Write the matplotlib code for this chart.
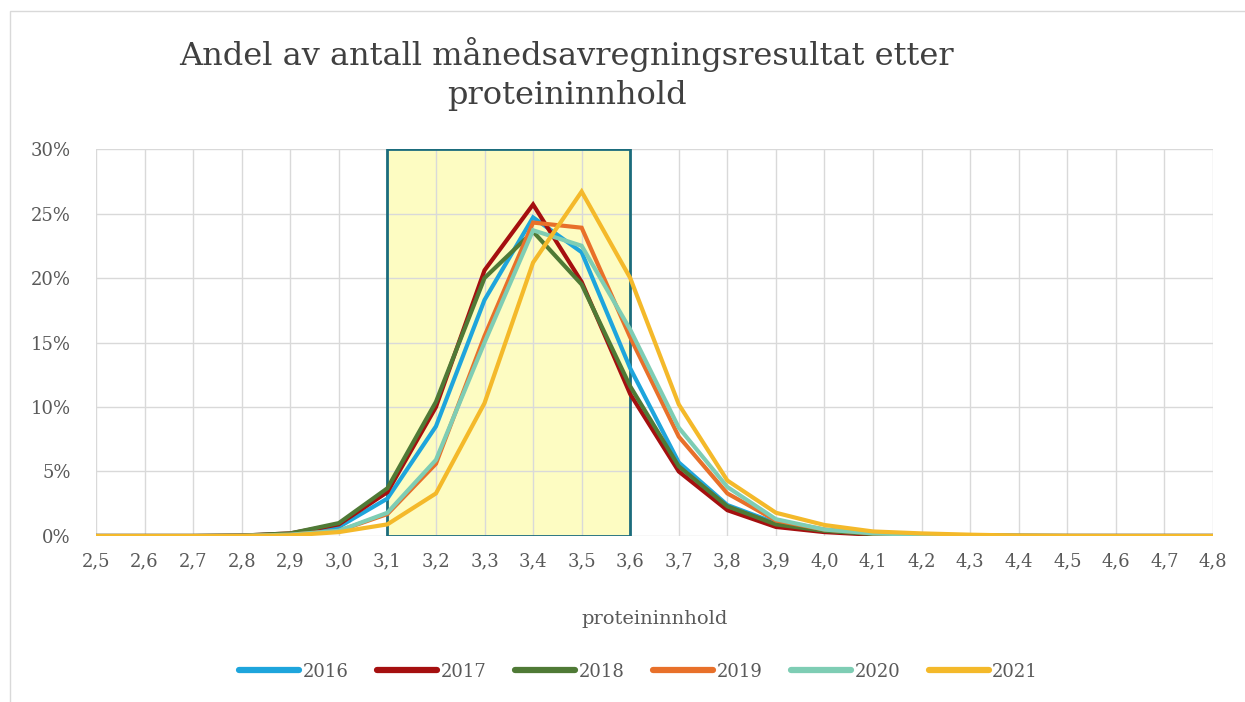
import matplotlib
matplotlib.use("Agg")
import matplotlib.pyplot as plt
from matplotlib.patches import Rectangle
from matplotlib.lines import Line2D

plt.rcParams['font.family'] = ['DejaVu Serif']

# protein content (x) and share of monthly results (%) per year
protein = [2.5, 2.6, 2.7, 2.8, 2.9, 3.0, 3.1, 3.2, 3.3, 3.4, 3.5, 3.6,
           3.7, 3.8, 3.9, 4.0, 4.1, 4.2, 4.3, 4.4, 4.5, 4.6, 4.7, 4.8]
y2016 = [0, 0, 0, 0.02, 0.15, 0.7, 2.9, 8.5, 18.3, 24.7, 22.0, 13.0,
         5.7, 2.4, 1.0, 0.4, 0.15, 0.07, 0.03, 0.01, 0, 0, 0, 0]
y2017 = [0, 0, 0, 0.03, 0.2, 0.9, 3.4, 10.0, 20.6, 25.7, 19.7, 11.0,
         5.0, 2.0, 0.7, 0.3, 0.1, 0.05, 0.02, 0, 0, 0, 0, 0]
y2018 = [0, 0, 0, 0.03, 0.2, 1.0, 3.7, 10.4, 20.0, 23.6, 19.5, 11.6,
         5.4, 2.3, 0.9, 0.4, 0.15, 0.07, 0.03, 0.01, 0, 0, 0, 0]
y2019 = [0, 0, 0, 0.01, 0.1, 0.4, 1.7, 5.6, 15.5, 24.3, 23.9, 15.4,
         7.7, 3.3, 1.2, 0.5, 0.2, 0.1, 0.04, 0.01, 0, 0, 0, 0]
y2020 = [0, 0, 0, 0.01, 0.1, 0.4, 1.8, 5.9, 15.0, 23.7, 22.5, 16.0,
         8.4, 3.8, 1.3, 0.5, 0.2, 0.1, 0.04, 0.01, 0, 0, 0, 0]
y2021 = [0, 0, 0, 0, 0.05, 0.3, 0.9, 3.3, 10.3, 21.2, 26.7, 20.0,
         10.2, 4.3, 1.8, 0.85, 0.35, 0.2, 0.1, 0.03, 0.01, 0, 0, 0]

years = ['2016', '2017', '2018', '2019', '2020', '2021']
series = [y2016, y2017, y2018, y2019, y2020, y2021]
colors = ['#1ea5dc', '#a50f0f', '#4f7a36', '#e8702a', '#7ecdb4', '#f4b92a']

box_range = (3.1, 3.6)

fig = plt.figure(figsize=(12.45, 7.02), dpi=100)
ax = fig.add_axes([0.0771, 0.2365, 0.8972, 0.5512])

# highlighted range
ax.add_patch(Rectangle((box_range[0], 0), box_range[1] - box_range[0], 30,
                       facecolor='#fdfcc2', edgecolor='none', zorder=0.2))
ax.add_patch(Rectangle((box_range[0], 0), box_range[1] - box_range[0], 30,
                       facecolor='none', edgecolor='#1b6c7c', lw=2, zorder=1.5))

for year, vals, c in zip(years, series, colors):
    ax.plot(protein, vals, color=c, lw=3.0, label=year, zorder=2,
            solid_joinstyle='miter')

ax.set_xlim(2.5, 4.8)
ax.set_ylim(0, 30)
ax.set_xticks(protein)
ax.set_xticklabels([f"{v:.1f}".replace('.', ',') for v in protein])
ax.set_yticks(range(0, 31, 5))
ax.set_yticklabels([f"{v}%" for v in range(0, 31, 5)])
ax.grid(True, color='#d9d9d9', lw=1)
ax.set_axisbelow(True)
for s in ax.spines.values():
    s.set_visible(False)
ax.tick_params(length=0, labelsize=13, colors='#595959')
ax.tick_params(axis='x', pad=12)
ax.tick_params(axis='y', pad=18)
ax.set_xlabel('proteininnhold', fontsize=14, color='#595959', labelpad=28)

fig.text(0.455, 0.895, 'Andel av antall månedsavregningsresultat etter\nproteininnhold',
         ha='center', va='center', fontsize=23, color='#404040',
         multialignment='center', linespacing=1.35)

handles = [Line2D([], [], color=c, lw=4.5, solid_capstyle='round') for c in colors]
fig.legend(handles, years, loc='center', bbox_to_anchor=(0.513, 0.043), ncol=6,
           frameon=False, fontsize=13, handlelength=3.3, handletextpad=0.2,
           columnspacing=1.6, labelcolor='#595959')

fig.add_artist(Rectangle((0.008, -0.02), 1.1, 1.005, transform=fig.transFigure,
                         facecolor='none', edgecolor='#d9d9d9', lw=1))

fig.savefig('out.png', dpi=100)
